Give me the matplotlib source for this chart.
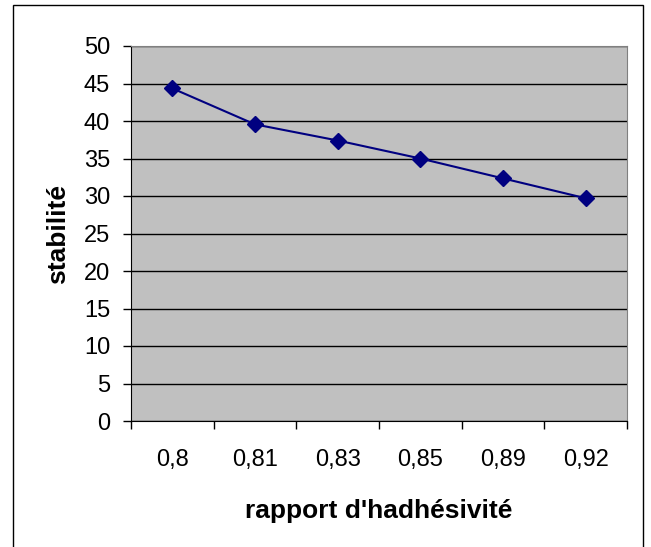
import numpy as np
import matplotlib.pyplot as plt
from matplotlib.patches import Rectangle

categories = ['0,8', '0,81', '0,83', '0,85', '0,89', '0,92']
stabilite = [44.35, 39.55, 37.4, 35.0, 32.35, 29.7]

plt.rcParams['font.family'] = ['Liberation Sans', 'DejaVu Sans']

fig = plt.figure(figsize=(6.51, 5.47), dpi=100)
ax = fig.add_axes([131/651, 1 - 421/547, 496/651, 375/547])
ax.set_facecolor('#C0C0C0')

x = np.arange(len(categories))
ax.plot(x, stabilite, color='#000080', linewidth=1.5, marker='D', markersize=8,
        markerfacecolor='#000080', markeredgecolor='#000080', zorder=3)

ax.set_xlim(-0.5, len(categories) - 0.5)
ax.set_ylim(0, 50)
ax.set_yticks(np.arange(0, 51, 5))
ax.yaxis.grid(True, color='black', linewidth=1)
ax.set_axisbelow(True)

# x ticks sit between categories, labels centred on categories
ax.set_xticks(np.arange(-0.5, len(categories), 1))
ax.set_xticklabels([])
ax.set_xticks(x, minor=True)
ax.set_xticklabels(categories, minor=True)
ax.tick_params(axis='x', which='minor', length=0, pad=20, labelsize=17)
ax.tick_params(axis='x', which='major', length=6, width=1, direction='out')
ax.tick_params(axis='y', length=6, width=1, direction='out', labelsize=17, pad=9)

for s in ['top', 'right']:
    ax.spines[s].set_color('#808080')
for s in ['left', 'bottom']:
    ax.spines[s].set_color('black')

ax.set_xlabel("rapport d'hadhésivité", fontsize=19, fontweight='bold', labelpad=20)
ax.set_ylabel('stabilité', fontsize=19, fontweight='bold', labelpad=10)

# outer chart frame, cut off at the bottom of the image
fig.patches.append(Rectangle((13/651, -10/547), 630/651, 552/547, transform=fig.transFigure,
                             fill=False, edgecolor='black', linewidth=1))

plt.savefig('out.png', dpi=100)
plt.close()
